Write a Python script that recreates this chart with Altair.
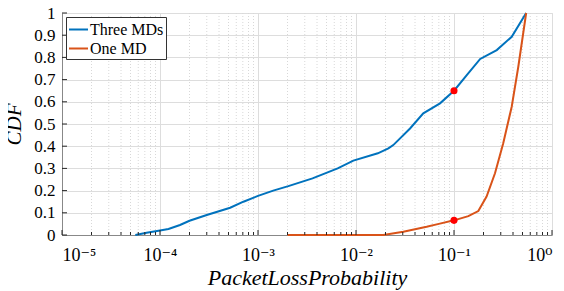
import altair as alt
import pandas as pd

# ---- data ----
three_x = [5.6e-5, 7.3e-5, 1e-4, 1.22e-4, 1.6e-4, 2e-4, 3e-4, 5.2e-4, 7.1e-4, 1e-3,
           1.43e-3, 2.04e-3, 3.6e-3, 6.5e-3, 9.4e-3, 1.67e-2, 2.14e-2, 2.4e-2, 3.56e-2,
           4.86e-2, 7.2e-2, 0.1, 0.135, 0.185, 0.273, 0.388, 0.545]
three_y = [0.0, 0.01, 0.02, 0.027, 0.045, 0.064, 0.09, 0.123, 0.15, 0.176,
           0.2, 0.22, 0.255, 0.30, 0.335, 0.368, 0.39, 0.405, 0.48,
           0.548, 0.593, 0.65, 0.72, 0.793, 0.833, 0.893, 1.0]

one_x = [2e-3, 1.9e-2, 3.04e-2, 5.26e-2, 7e-2, 0.1, 0.14, 0.177, 0.215, 0.262,
         0.318, 0.388, 0.453, 0.545]
one_y = [0.0, 0.0, 0.015, 0.037, 0.05, 0.066, 0.085, 0.108, 0.173, 0.278,
         0.413, 0.578, 0.758, 1.0]

dot_x = [0.1, 0.1]
dot_y = [0.65, 0.066]

series_names = ["Three MDs", "One MD"]
series_colors = ["#0072BD", "#D95319"]

x_major = [1e-5, 1e-4, 1e-3, 1e-2, 1e-1, 1.0]
x_tick_labels = ["10⁻⁵", "10⁻⁴", "10⁻³", "10⁻²", "10⁻¹", "10⁰"]
x_minor = [m * d for d in [1e-5, 1e-4, 1e-3, 1e-2, 1e-1] for m in range(2, 10)]
y_major = [round(i * 0.1, 1) for i in range(11)]

W, H = 490, 222
FONT = "Times New Roman, Liberation Serif, DejaVu Serif, serif"

# ---- tables ----
rows = []
for name, xs, ys in [(series_names[0], three_x, three_y), (series_names[1], one_x, one_y)]:
    for i, (a, b) in enumerate(zip(xs, ys)):
        rows.append({"x": a, "y": b, "series": name, "i": i})
lines_df = pd.DataFrame(rows)
dots_df = pd.DataFrame({"x": dot_x, "y": dot_y})
minor_df = pd.DataFrame({"x": x_minor})
major_df = pd.DataFrame({"x": x_major})
ymaj_df = pd.DataFrame({"y": y_major})

xscale = alt.Scale(type="log", domain=[1e-5, 1])
yscale = alt.Scale(domain=[0, 1])

label_expr = "[" + ",".join("'%s'" % s for s in x_tick_labels) + "][round(log(datum.value)/LN10)+5]"

x_axis = alt.Axis(values=x_major, labelExpr=label_expr, grid=True, ticks=False,
                  title="PacketLossProbability", labelPadding=11,
                  labelFontSize=18, titleFontSize=22, titleFontStyle="italic",
                  titleFontWeight="normal", titlePadding=3, labelOverlap=False,
                  labelFont=FONT, titleFont=FONT)
y_axis = alt.Axis(values=y_major, format=".1~f", grid=True, ticks=False,
                  title="CDF", labelPadding=7, labelFontSize=17,
                  titleFontSize=21, titleFontStyle="italic",
                  titleFontWeight="normal", titlePadding=9, labelOverlap=False,
                  labelFont=FONT, titleFont=FONT)

X = lambda: alt.X("x:Q", scale=xscale, axis=x_axis)
Y = lambda: alt.Y("y:Q", scale=yscale, axis=y_axis)

minor_grid = alt.Chart(minor_df).mark_rule(
    color="#d8d8d8", strokeWidth=1, strokeDash=[1, 2]
).encode(x=X())

minor_ticks = alt.Chart(minor_df).mark_rule(color="#262626", strokeWidth=1).encode(
    x=X(), y=alt.value(H), y2=alt.value(H - 3)
)
major_ticks = alt.Chart(major_df).mark_rule(color="#262626", strokeWidth=1).encode(
    x=X(), y=alt.value(H), y2=alt.value(H - 5)
)
y_ticks = alt.Chart(ymaj_df).mark_rule(color="#262626", strokeWidth=1).encode(
    y=Y(), x=alt.value(0), x2=alt.value(5)
)

lines = alt.Chart(lines_df).mark_line(strokeWidth=2).encode(
    x=X(),
    y=Y(),
    color=alt.Color("series:N", scale=alt.Scale(domain=series_names, range=series_colors),
                    sort=series_names,
                    legend=alt.Legend(title=None, orient="none", legendX=4, legendY=4,
                                      symbolType="stroke", symbolSize=361,
                                      symbolStrokeWidth=2, labelFontSize=16,
                                      labelFont=FONT, labelOffset=1, rowPadding=0,
                                      padding=2, strokeColor="#333333",
                                      fillColor="white", cornerRadius=0)),
    order="i:Q",
)

dots = alt.Chart(dots_df).mark_circle(color="#FF0000", opacity=1, size=50).encode(
    x=X(), y=Y()
)

chart = alt.layer(minor_grid, lines, dots, minor_ticks, major_ticks, y_ticks).properties(
    width=W, height=H,
    autosize=alt.AutoSizeParams(type="none"),
    padding={"left": 54, "top": 5, "right": 4, "bottom": 56},
).configure_view(stroke="#d9d9d9").configure_axis(
    labelFont=FONT, titleFont=FONT, labelColor="#262626", titleColor="#262626",
    gridColor="#dedede", gridWidth=1, domainColor="#262626", domainWidth=1,
).configure_legend(labelFont=FONT).configure(font=FONT)

chart.save("out.html", embed_options={"renderer": "svg", "actions": False})
